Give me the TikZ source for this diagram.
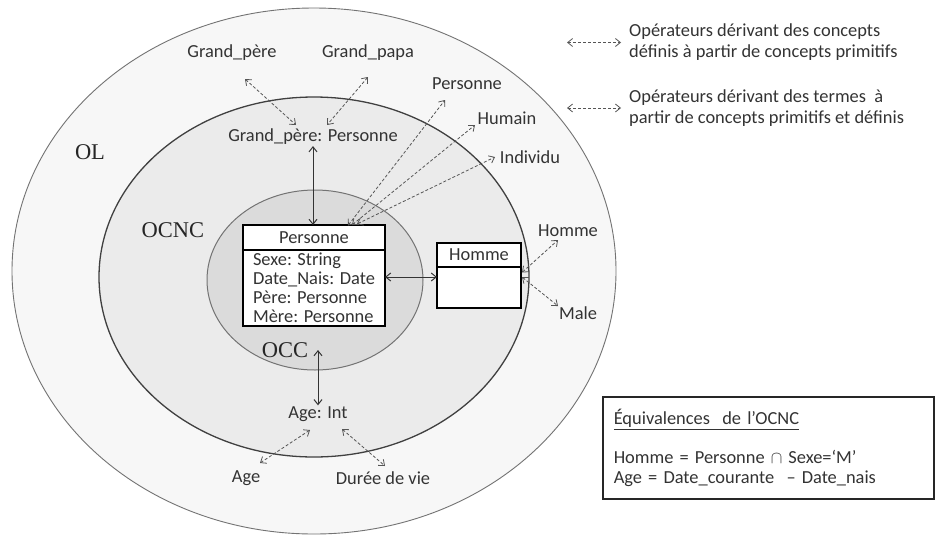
\documentclass[tikz,border=0pt]{standalone}
\usepackage{fontspec}
\setmainfont{Carlito}
\newfontfamily\zonefont{Liberation Serif}
\usepackage{xcolor}
\usepackage{tikz}
\usetikzlibrary{arrows.meta}
\usetikzlibrary{positioning}
\definecolor{txtgray}{HTML}{333333}
\definecolor{linegray}{HTML}{555555}
\tikzset{
	lbl/.style={font=\fontsize{18.4}{21}\selectfont,text=txtgray,inner sep=1pt},
	zone/.style={font=\zonefont\fontsize{22.5}{26}\selectfont,text=black!85},
	classhead/.style={draw=black,line width=1.8pt,fill=white,inner sep=0pt,outer sep=0pt,
		font=\fontsize{18.4}{21}\selectfont,text=txtgray},
	classbody/.style={draw=black,line width=1.8pt,fill=white,inner sep=0pt,outer sep=0pt,
		align=left,font=\fontsize{18.4}{19}\selectfont,text=txtgray},
	deriv/.style={<->,draw=linegray,line width=0.8pt,dash pattern=on 3pt off 2pt},
	link/.style={<->,draw=txtgray,line width=1pt}
}

\begin{document}
\begin{tikzpicture}[x=1pt,y=-1pt,>={Straight Barb[length=5pt,width=8pt]}]
	\useasboundingbox (0,0) rectangle (936,536);
	\fill[white] (0,0) rectangle (936,536);
	\draw[draw=black!55,fill=black!3,line width=0.9pt] (314,271) ellipse [x radius=302, y radius=263];
	\draw[draw=black!75,fill=black!8,line width=1.3pt] (314,277) ellipse [x radius=215, y radius=180];
	\draw[draw=black!55,fill=black!14,line width=1pt] (315,280) ellipse [x radius=108, y radius=90];
	\node [zone] (1) at (90,152) {OL};
	\node [zone] (2) at (173,230) {OCNC};
	\node [zone] (3) at (285,350) {OCC};
	\node [classhead,minimum width=142pt,minimum height=25pt] (4) at (314,237.5) {Personne};
	\node [classbody,minimum width=142pt,minimum height=76pt,below=0pt of 4] (5)
		{Sexe: String\\Date\_Nais: Date\\Père: Personne\\Mère: Personne};
	\node [classhead,minimum width=84pt,minimum height=24pt] (6) at (479,255) {Homme};
	\node [classbody,minimum width=84pt,minimum height=41pt,below=0pt of 6] (7) {};
	\node [lbl] (8) at (313,137) {Grand\_père: Personne};
	\node [lbl] (9) at (232,53) {Grand\_père};
	\node [lbl] (10) at (368,53) {Grand\_papa};
	\node [lbl] (11) at (467,84) {Personne};
	\node [lbl] (12) at (507,118) {Humain};
	\node [lbl] (13) at (530,157) {Individu};
	\node [lbl] (14) at (568,231) {Homme};
	\node [lbl] (15) at (578,313) {Male};
	\node [lbl] (16) at (318,414) {Age: Int};
	\node [lbl] (17) at (246,478) {Age};
	\node [lbl] (18) at (383,478) {Durée de vie};
	\node [lbl,anchor=west,align=left] (19) at (628,42.5)
		{Opérateurs dérivant des concepts\\définis à partir de concepts primitifs};
	\node [lbl,anchor=west,align=left] (20) at (628,108)
		{Opérateurs dérivant des termes\ \ à\\partir de concepts primitifs et définis};
	\node [lbl,draw=black!85,line width=1.5pt,anchor=north west,align=left,
		text width=309pt,inner xsep=11pt,minimum height=102pt,font=\fontsize{18.4}{19.5}\selectfont] (21) at (602,396)
		{\underline{Équivalences\ \ de l’OCNC}\\[19.5pt]Homme = Personne\ $\cap$ Sexe=‘M’\\Age = Date\_courante\ \ – Date\_nais};
	\draw [link] (8.south) -- (8.south |- 4.north);
	\draw [link] ([shift={(0,-11)}]5.east) -- ([shift={(0,-11)}]5.east -| 7.west);
	\draw [link] (16.north) -- (16.north |- 3.center);
	\draw [deriv] ([shift={(13,26)}]9.center) -- ([shift={(-17,-12)}]8.center);
	\draw [deriv] ([shift={(0,24)}]10.center) -- ([shift={(14,-12)}]8.center);
	\draw [deriv] ([shift={(34,-12)}]4.center) -- ([shift={(-22,16)}]11.center);
	\draw [deriv] ([shift={(38,-12.5)}]4.center) -- ([shift={(-32,7)}]12.center);
	\draw [deriv] ([shift={(43,-13.5)}]4.center) -- ([shift={(-35,0)}]13.center);
	\draw [deriv] ([shift={(43,-15)}]7.center) -- ([shift={(-10,9)}]14.center);
	\draw [deriv] ([shift={(43,-10.5)}]7.center) -- ([shift={(-20,-7)}]15.center);
	\draw [deriv] ([shift={(-8,16)}]16.center) -- ([shift={(14,-15)}]17.center);
	\draw [deriv] ([shift={(24,15)}]16.center) -- ([shift={(2,-12)}]18.center);
	\draw [deriv] ([xshift=-61pt]19.west) -- ([xshift=-7pt]19.west);
	\draw [deriv] ([xshift=-61pt]20.west) -- ([xshift=-7pt]20.west);
\end{tikzpicture}
\end{document}
